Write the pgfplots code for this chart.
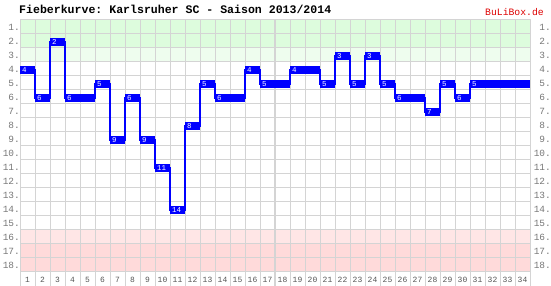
\documentclass[border=0pt]{standalone}
\usepackage{pgfplots}
\pgfplotsset{compat=1.18}
\usepackage{pgfplotstable}
\usepackage{fontspec}
\setmonofont{Liberation Mono}
\definecolor{gridc}{HTML}{D4D4D4}
\definecolor{gA}{HTML}{DDFCDD}
\definecolor{gB}{HTML}{EEFDEE}
\definecolor{rA}{HTML}{FFE6E6}
\definecolor{rB}{HTML}{FFDADA}
\definecolor{lblue}{HTML}{0000FF}
\definecolor{ylab}{HTML}{777777}
\definecolor{xlab}{HTML}{555555}
\definecolor{brand}{HTML}{DD0000}

\pgfplotstableread{
md pos
1 4
2 6
3 2
4 6
5 6
6 5
7 9
8 6
9 9
10 11
11 14
12 8
13 5
14 6
15 6
16 4
17 5
18 5
19 4
20 4
21 5
22 3
23 5
24 3
25 5
26 6
27 6
28 7
29 5
30 6
31 5
32 5
33 5
34 5
}\data

\pgfplotstableread{
md pos
1 4
2 6
3 2
4 6
6 5
7 9
8 6
9 9
10 11
11 14
12 8
13 5
14 6
16 4
17 5
19 4
21 5
22 3
23 5
24 3
25 5
26 6
28 7
29 5
30 6
31 5
}\labs

\begin{document}
\begin{tikzpicture}
\node[anchor=base west, inner sep=0pt, font=\ttfamily\bfseries\fontsize{11.6}{12}\selectfont] at (19bp,272.5bp) {Fieberkurve: Karlsruher SC - Saison 2013/2014};
\node[anchor=base west, inner sep=0pt, text=brand, font=\ttfamily\fontsize{9.8}{10}\selectfont] at (485bp,270bp) {BuLiBox.de};
\begin{axis}[
  at={(20bp,14bp)}, anchor=south west, scale only axis,
  width=510bp, height=252bp,
  xmin=0, xmax=34, ymin=0, ymax=18, y dir=reverse,
  set layers,
  axis line style={draw=gridc, line width=1bp},
  xtick={0.5,1.5,...,33.5}, ytick={0.5,1.5,...,17.5},
  minor xtick={0,...,34}, minor ytick={0,...,18},
  grid=minor,
  minor grid style={draw=gridc, line width=1bp},
  major tick length=0pt, minor tick length=14bp,
  tick align=outside,
  xtick pos=left, ytick pos=left,
  tick style={draw=gridc, line width=1bp},
  ytick style={draw=none},
  xticklabel={\pgfmathparse{int(round(\tick+0.5))}\pgfmathresult},
  xticklabel style={font=\ttfamily\fontsize{8}{8}\selectfont, text=xlab, inner sep=0pt, anchor=north, yshift=-5.3bp},
  yticklabel={\pgfmathparse{int(round(\tick+0.5))}\pgfmathresult.},
  yticklabel style={font=\ttfamily\fontsize{9.5}{9.5}\selectfont, text=ylab, inner sep=0pt, anchor=east},
]
\pgfonlayer{axis background}
\fill[gA] (axis cs:0,0) rectangle (axis cs:34,2);
\fill[gB] (axis cs:0,2) rectangle (axis cs:34,3);
\fill[rA] (axis cs:0,15) rectangle (axis cs:34,16);
\fill[rB] (axis cs:0,16) rectangle (axis cs:34,18);
\endpgfonlayer
\pgfonlayer{axis grid}
\draw[gridc, line width=2.2bp] (axis cs:17,0) -- ([yshift=-14bp]axis cs:17,18);
\endpgfonlayer
\addplot[lblue, line width=1.1bp, const plot mark left]
  table[x expr=\thisrow{md}-1, y expr=\thisrow{pos}-0.425] {\data};
\addplot[draw=none, mark=none,
  error bars/.cd, x dir=both, x fixed=0.5, error mark=none,
  error bar style={draw=lblue, line width=7.7bp}]
  table[x expr=\thisrow{md}-0.5, y expr=\thisrow{pos}-0.425] {\data};
\addplot[only marks, mark=none, point meta=explicit symbolic, nodes near coords,
  every node near coord/.append style={anchor=west, inner sep=0pt, xshift=2bp, text=white, font=\ttfamily\fontsize{7.5}{7.5}\selectfont}]
  table[x expr=\thisrow{md}-1, y expr=\thisrow{pos}-0.425, meta=pos] {\labs};
\end{axis}
\begin{axis}[
  at={(20bp,14bp)}, anchor=south west, scale only axis,
  width=510bp, height=252bp,
  xmin=0, xmax=34, ymin=0, ymax=18, y dir=reverse,
  axis line style={draw=none},
  xtick=\empty, ytick={0.5,1.5,...,17.5},
  yticklabel pos=right, major tick length=0pt, ytick style={draw=none},
  yticklabel={\pgfmathparse{int(round(\tick+0.5))}\pgfmathresult.},
  yticklabel style={font=\ttfamily\fontsize{9.5}{9.5}\selectfont, text=ylab, inner sep=0pt, anchor=east, xshift=21bp},
]
\addplot[draw=none, mark=none] table[x expr=\thisrow{md}-0.5, y=pos] {\data};
\end{axis}
\pgfresetboundingbox
\path[use as bounding box] (0,0) rectangle (551bp,286bp);
\end{tikzpicture}
\end{document}
